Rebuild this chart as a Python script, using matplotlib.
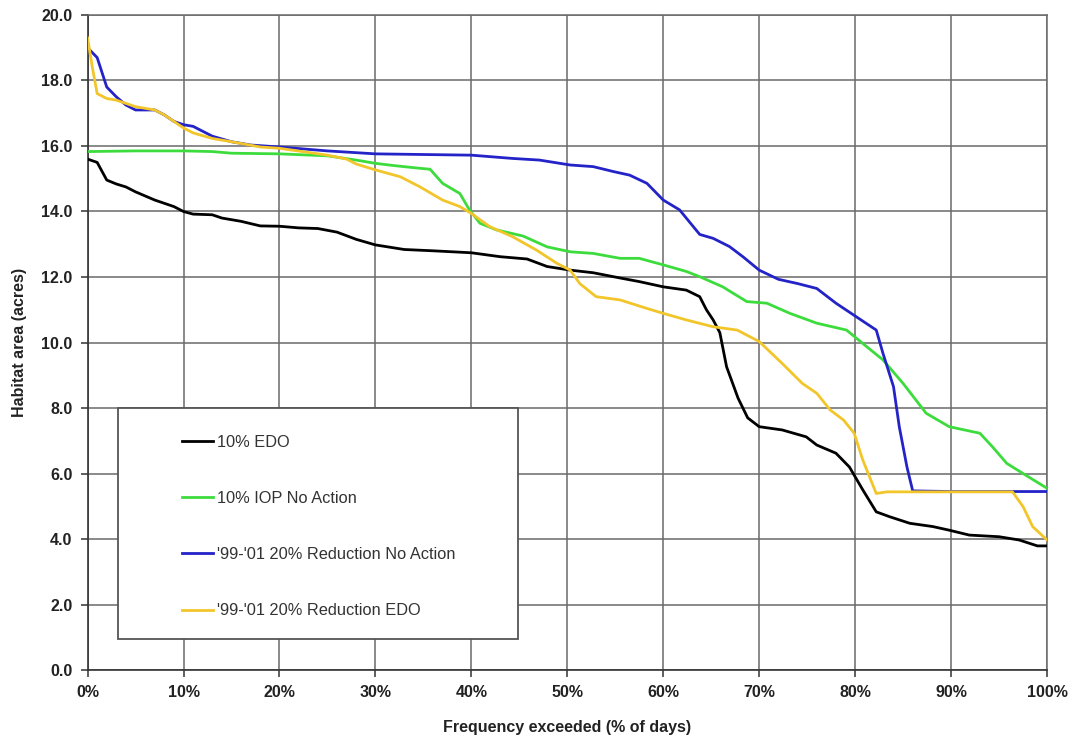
import matplotlib
matplotlib.use("Agg")
import matplotlib.pyplot as plt
from matplotlib.ticker import FuncFormatter, MultipleLocator
from matplotlib.patches import Rectangle

plt.rcParams['font.family'] = ['Liberation Sans', 'DejaVu Sans']

# ---- data (x = % of days exceeded, y = habitat area in acres) ----
edo_x = [0, 1, 2, 3, 4, 5, 7, 9, 10, 11, 13, 14, 16, 18, 20, 22, 24, 26, 28, 30, 33, 36, 40, 43,
         45.8, 47.9, 50.3, 52.7, 55.5, 57.5, 60, 62.4, 63.8, 64.5, 65.2, 65.9, 66.6, 67.8, 68.8,
         70, 72.4, 74.9, 76, 78, 79.4, 80.8, 82.2, 83.6, 85.7, 88.1, 89.8, 91.9, 95, 97.1, 99, 100]
edo_y = [15.6, 15.5, 14.96, 14.84, 14.75, 14.6, 14.35, 14.15, 14.0, 13.92, 13.9, 13.8, 13.7, 13.56,
         13.55, 13.5, 13.48, 13.37, 13.15, 12.98, 12.84, 12.8, 12.74, 12.62, 12.55, 12.32, 12.21,
         12.13, 11.97, 11.86, 11.7, 11.6, 11.4, 11.0, 10.69, 10.3, 9.26, 8.3, 7.7, 7.43, 7.33, 7.12,
         6.87, 6.62, 6.2, 5.5, 4.83, 4.68, 4.48, 4.38, 4.27, 4.12, 4.07, 3.97, 3.79, 3.79]

iop_x = [0, 5, 10, 13, 15, 20, 25, 28, 30, 32, 34.6, 35.7, 37, 38.8, 39.8, 40.9, 42.6, 45.4, 47.9,
         50.3, 52.7, 55.5, 57.5, 60, 62.4, 63.8, 66.2, 68.7, 70.8, 73.2, 76, 79.1, 80.8, 82.9, 85,
         87.4, 89.8, 93, 94.3, 95.8, 97.5, 100]
iop_y = [15.83, 15.85, 15.85, 15.83, 15.78, 15.76, 15.7, 15.57, 15.47, 15.4, 15.32, 15.29, 14.86,
         14.55, 14.05, 13.64, 13.44, 13.25, 12.92, 12.77, 12.72, 12.57, 12.57, 12.37, 12.17, 12.01,
         11.7, 11.25, 11.2, 10.89, 10.59, 10.38, 9.97, 9.47, 8.75, 7.84, 7.43, 7.23, 6.82, 6.31,
         6.0, 5.55]

rna_x = [0, 1, 2, 3, 4, 5, 7, 8, 9, 10, 11, 12, 13, 15, 17, 20, 25, 30, 35, 40, 44.3, 47.1, 50.3,
         52.7, 54.8, 56.5, 58.3, 60, 61.7, 63.8, 65.2, 66.9, 68.3, 70, 72, 74, 76, 78, 80.1, 82.2,
         82.9, 84, 84.6, 85.4, 86, 90, 100]
rna_y = [19.0, 18.7, 17.8, 17.5, 17.25, 17.1, 17.1, 16.95, 16.75, 16.65, 16.6, 16.45, 16.3, 16.13,
         16.03, 15.97, 15.85, 15.76, 15.74, 15.72, 15.62, 15.57, 15.42, 15.37, 15.22, 15.11, 14.86,
         14.35, 14.05, 13.3, 13.18, 12.93, 12.62, 12.21, 11.93, 11.8, 11.65, 11.2, 10.79, 10.38,
         9.67, 8.65, 7.43, 6.2, 5.47, 5.45, 5.45]

red_x = [0, 0.5, 1, 2, 3, 5, 7, 8, 9.5, 10, 11, 13, 15, 18, 20, 25, 27, 28, 30, 32.6, 34.6, 37,
         38.8, 40, 41.9, 44.3, 46.8, 48.9, 50.3, 51.3, 53, 55.5, 58.3, 60, 62.4, 65.2, 67.7, 70,
         72.4, 74.5, 76, 77.4, 78.8, 79.9, 80.8, 82.2, 83.3, 90, 96.4, 97.5, 98.5, 100]
red_y = [19.3, 18.4, 17.6, 17.45, 17.4, 17.2, 17.1, 16.95, 16.65, 16.55, 16.4, 16.23, 16.13, 15.97,
         15.93, 15.72, 15.6, 15.45, 15.27, 15.06, 14.76, 14.35, 14.15, 13.94, 13.54, 13.23, 12.82,
         12.42, 12.21, 11.8, 11.4, 11.3, 11.04, 10.89, 10.69, 10.48, 10.38, 10.03, 9.36, 8.75, 8.45,
         7.94, 7.63, 7.23, 6.41, 5.39, 5.44, 5.44, 5.44, 4.99, 4.38, 3.97]

labels = ["10% EDO", "10% IOP No Action", "'99-'01 20% Reduction No Action", "'99-'01 20% Reduction EDO"]
colors = ["#000000", "#3ddc3d", "#2323c8", "#f2c62a"]

fig = plt.figure(figsize=(10.73, 7.42), dpi=100)
ax = fig.add_axes([0.0816, 0.097, 0.8942, 0.8828])

for xs, ys, lab, col in zip([edo_x, iop_x, rna_x, red_x], [edo_y, iop_y, rna_y, red_y], labels, colors):
    ax.plot(xs, ys, color=col, lw=2.0, label=lab, solid_joinstyle='round', zorder=3)

ax.set_xlim(0, 100)
ax.set_ylim(0, 20)
ax.xaxis.set_major_locator(MultipleLocator(10))
ax.yaxis.set_major_locator(MultipleLocator(2))
ax.xaxis.set_major_formatter(FuncFormatter(lambda v, p: f"{v:.0f}%"))
ax.yaxis.set_major_formatter(FuncFormatter(lambda v, p: f"{v:.1f}"))
ax.grid(True, color="#6a6a6a", lw=1.1)
ax.set_axisbelow(True)
for s in ['top', 'right']:
    ax.spines[s].set_color("#6a6a6a")
    ax.spines[s].set_linewidth(1.1)
for s in ['left', 'bottom']:
    ax.spines[s].set_color("#333333")
    ax.spines[s].set_linewidth(1.2)
ax.tick_params(direction='out', length=5, width=1.1, color="#333333", labelsize=11.5, pad=6)
for t in ax.get_xticklabels() + ax.get_yticklabels():
    t.set_fontweight('bold')
    t.set_color('#222222')

ax.set_xlabel("Frequency exceeded (% of days)", fontsize=11.5, fontweight='bold', labelpad=14, color='#222222')
ax.set_ylabel("Habitat area (acres)", fontsize=11.5, fontweight='bold', labelpad=10, color='#222222')

# legend box (frame drawn separately, entries placed inside)
box = Rectangle((0.0318, 0.0473), 0.4167, 0.3527, transform=ax.transAxes,
                facecolor='white', edgecolor='#555555', lw=1.3, zorder=4)
ax.add_patch(box)
leg = ax.legend(loc='upper left', bbox_to_anchor=(0.0984, 0.3595), frameon=False,
                fontsize=11.8, handlelength=1.9, handletextpad=0.25, labelspacing=2.52,
                borderpad=0, borderaxespad=0)
leg.set_zorder(5)
for t in leg.get_texts():
    t.set_color('#333333')

fig.savefig("out.png", dpi=100)
